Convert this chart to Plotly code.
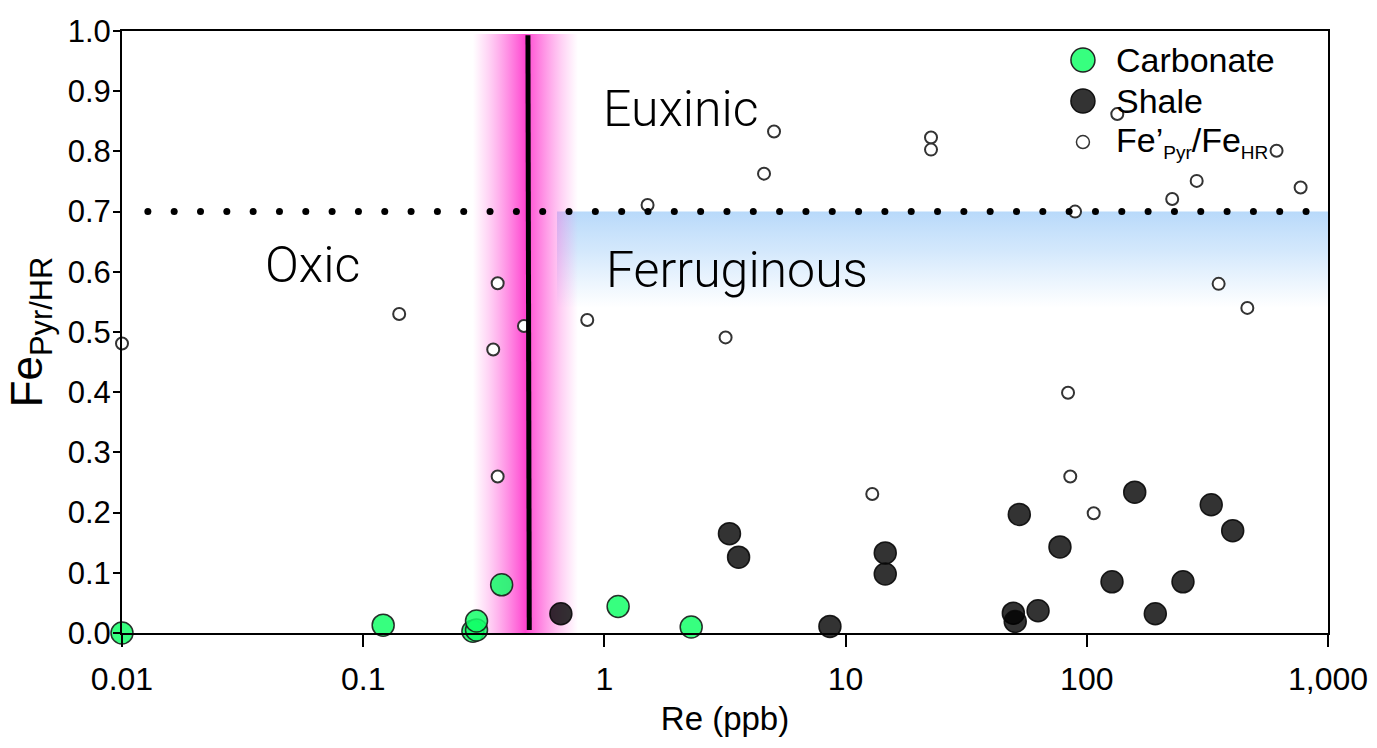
import numpy as np
import plotly.graph_objects as go

# Carbonate samples: Re (ppb) vs Fe_Pyr/HR
carb_re = [0.01, 0.121, 0.285, 0.295, 0.295, 0.375, 1.14, 2.29]
carb_fe = [0.0, 0.013, 0.003, 0.005, 0.02, 0.080, 0.044, 0.010]

# Shale samples
shale_re = [0.66, 3.30, 3.60, 8.61, 14.6, 14.6, 49.6, 50.5, 52.5, 62.8, 77.4,
            127.2, 158.0, 192.3, 250.5, 328.0, 402.6]
shale_fe = [0.032, 0.165, 0.126, 0.011, 0.133, 0.098, 0.033, 0.019, 0.197, 0.037,
            0.143, 0.085, 0.234, 0.032, 0.085, 0.213, 0.170]

# Fe'Pyr/FeHR values
fep_re = [0.01, 0.141, 0.346, 0.361, 0.361, 0.464, 0.849, 1.51, 3.18, 4.59, 5.05,
          12.9, 22.6, 22.6, 83.6, 85.4, 89.4, 106.8, 133.8, 226.0, 285.5, 352.0,
          463.0, 612.0, 770.0]
fep_fe = [0.481, 0.530, 0.471, 0.581, 0.260, 0.510, 0.520, 0.711, 0.491, 0.763, 0.833,
          0.231, 0.823, 0.803, 0.399, 0.260, 0.700, 0.199, 0.862, 0.721, 0.751, 0.580,
          0.540, 0.801, 0.740]

x_tickvals = [0.01, 0.1, 1, 10, 100, 1000]
x_ticktext = ["0.01", "0.1", "1", "10", "100", "1,000"]
y_tickvals = [0.0, 0.1, 0.2, 0.3, 0.4, 0.5, 0.6, 0.7, 0.8, 0.9, 1.0]

euxinic_threshold = 0.7
re_threshold = [0.482, 0.488]       # top / bottom of the Re threshold line
re_band = [0.285, 0.777]            # uncertainty band around the Re threshold
ferrug_x = [0.636, 1000]
ferrug_y = [0.54, 0.70]

FONT = "Liberation Sans, Arial, sans-serif"
LIGHT = "Roboto, sans-serif"

fig = go.Figure()

# Ferruginous field (vertical gradient, blue to white)
fig.add_trace(go.Scatter(
    x=[ferrug_x[0], ferrug_x[1], ferrug_x[1], ferrug_x[0], ferrug_x[0]],
    y=[ferrug_y[0], ferrug_y[0], ferrug_y[1], ferrug_y[1], ferrug_y[0]],
    mode="lines", line=dict(width=0), fill="toself",
    fillgradient=dict(type="vertical",
                      colorscale=[[0, "rgba(200,226,252,0)"], [0.6, "rgba(196,224,251,0.75)"],
                                  [1, "rgba(184,217,250,1)"]]),
    hoverinfo="skip", showlegend=False))

# Magenta band around the Re threshold (horizontal gradient)
fig.add_trace(go.Scatter(
    x=[re_band[0], re_band[1], re_band[1], re_band[0], re_band[0]],
    y=[0, 0, 0.995, 0.995, 0],
    mode="lines", line=dict(width=0), fill="toself",
    fillgradient=dict(type="horizontal",
                      colorscale=[[0, "rgba(255,120,225,0)"], [0.15, "rgba(255,110,222,0.3)"],
                                  [0.35, "rgba(255,90,215,0.72)"], [0.5, "rgba(255,70,208,1)"],
                                  [0.65, "rgba(255,90,215,0.72)"], [0.85, "rgba(255,110,222,0.3)"],
                                  [1, "rgba(255,120,225,0)"]]),
    hoverinfo="skip", showlegend=False))

# Fe'Pyr/FeHR open circles
fig.add_trace(go.Scatter(
    x=fep_re, y=fep_fe, mode="markers", cliponaxis=False,
    marker=dict(color="white", size=12, line=dict(color="#333333", width=2)),
    showlegend=False))

# Re threshold line
fig.add_trace(go.Scatter(
    x=re_threshold, y=[0.993, 0.005], mode="lines",
    line=dict(color="black", width=5), hoverinfo="skip", showlegend=False))

# Dotted euxinic threshold
dots_x = np.logspace(np.log10(0.0128), np.log10(811), 45)
fig.add_trace(go.Scatter(
    x=dots_x, y=[euxinic_threshold] * len(dots_x), mode="markers",
    marker=dict(color="black", size=7, line=dict(width=0)),
    hoverinfo="skip", showlegend=False))

# Carbonate
fig.add_trace(go.Scatter(
    x=carb_re, y=carb_fe, mode="markers", cliponaxis=False,
    marker=dict(color="rgba(20,255,105,0.85)", size=22,
                line=dict(color="rgba(25,25,25,0.9)", width=1.5)),
    showlegend=False))

# Shale
fig.add_trace(go.Scatter(
    x=shale_re, y=shale_fe, mode="markers", cliponaxis=False,
    marker=dict(color="rgba(0,0,0,0.8)", size=22,
                line=dict(color="rgba(10,10,10,0.9)", width=1.5)),
    showlegend=False))

# Legend entries
SUB = '<sub><span style="font-size:19px">{}</span></sub>'
legend_items = [
    ("Carbonate", "rgba(20,255,105,0.85)", "#222222", 12, 0.9518),
    ("Shale", "rgba(0,0,0,0.8)", "#111111", 12, 0.8837),
    ("Fe’" + SUB.format("Pyr") + "/Fe" + SUB.format("HR"), "white", "#333333", 6.5, 0.8156),
]
shapes = []
annotations = []
for label, fill, edge, r, yy in legend_items:
    shapes.append(dict(type="circle", xref="paper", yref="paper",
                       xsizemode="pixel", ysizemode="pixel",
                       xanchor=0.7968, yanchor=yy, x0=-r, x1=r, y0=-r, y1=r,
                       fillcolor=fill, line=dict(color=edge, width=1.5)))
    annotations.append(dict(xref="paper", yref="paper", x=0.8225, y=yy,
                            xanchor="left", yanchor="middle", text=label,
                            showarrow=False, font=dict(family=FONT, size=34, color="black")))

# Redox field labels (log-axis annotations use log10 x)
for txt, lx, ly in [("Euxinic", np.log10(0.965), 0.87),
                    ("Oxic", np.log10(0.0385), 0.611),
                    ("Ferruginous", np.log10(1.0), 0.603)]:
    annotations.append(dict(x=lx, y=ly, xref="x", yref="y", xanchor="left", yanchor="middle",
                            text=txt, showarrow=False,
                            font=dict(family=LIGHT, size=50, color="black", weight=300)))

fig.update_layout(
    width=1377, height=748,
    margin=dict(l=122, r=49, t=31, b=115),
    paper_bgcolor="white", plot_bgcolor="white",
    showlegend=False,
    shapes=shapes, annotations=annotations,
    font=dict(family=FONT, size=32, color="black"),
    xaxis=dict(type="log", range=[-2, 3], tickvals=x_tickvals, ticktext=x_ticktext,
               automargin=False,
               showgrid=False, zeroline=False, showline=True, linecolor="black", linewidth=2,
               mirror=True, ticks="outside", ticklen=12, tickwidth=2, tickcolor="black",
               ticklabelstandoff=5,
               tickfont=dict(family=FONT, size=32),
               title=dict(text="Re (ppb)", font=dict(family=FONT, size=33), standoff=10)),
    yaxis=dict(range=[0, 1], tickvals=y_tickvals, tickformat=".1f",
               automargin=False,
               showgrid=False, zeroline=False, showline=True, linecolor="black", linewidth=2,
               mirror=True, ticks="outside", ticklen=7, tickwidth=2, tickcolor="black",
               ticklabelstandoff=-4,
               tickfont=dict(family=FONT, size=31),
               title=dict(text="Fe<sub>Pyr/HR</sub>", font=dict(family=FONT, size=44), standoff=11)),
)

fig.write_html("out.html")
